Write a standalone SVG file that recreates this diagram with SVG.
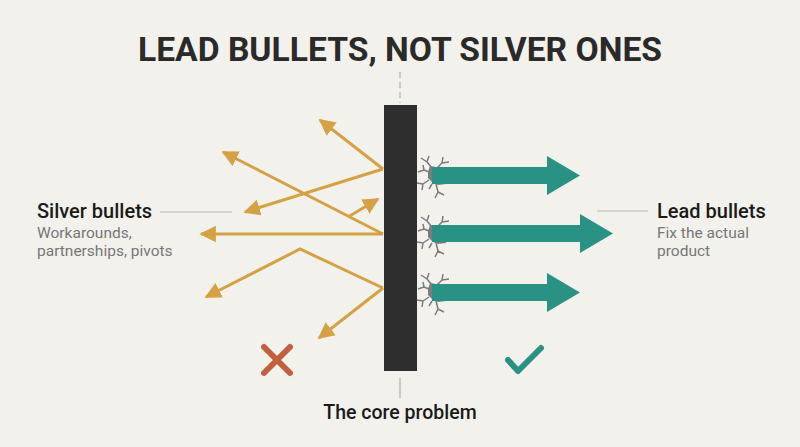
<svg xmlns="http://www.w3.org/2000/svg" width="800" height="447" viewBox="0 0 800 447">
<defs>
<style>
.gold{fill:none;stroke:#D4A244;stroke-width:3;stroke-linejoin:miter}
.teal{fill:#2A9284}
.crack{fill:none;stroke:#7C7C7C;stroke-width:1.5;stroke-linejoin:round}
.hdr{font-family:Roboto,"Liberation Sans",sans-serif;font-weight:500;font-size:20px;fill:#1a1a1a}
.sub{font-family:Roboto,"Liberation Sans",sans-serif;font-size:15.5px;fill:#777}
.lead{stroke:#B5B5B5;stroke-width:1}
</style>
<marker id="ah" viewBox="0 0 10 10" refX="9" refY="5" markerWidth="5.5" markerHeight="5.5" markerUnits="strokeWidth" orient="auto">
<path d="M0,0 L10,5 L0,10 z" fill="#D4A244"/>
</marker>
<g id="crk">
<path d="M-2,-9 L4,-8 L8,-3 L14,-2 L14,9 L6,10 L1,8 L-4,3 L-4,-3 z" fill="#7C7C7C"/>
<path class="crack" d="M0,-7 L-5,-13 L-3,-19 M-5,-13 L-11,-17 M5,-7 L10,-12 L17,-13 M10,-12 L11,-18 M-3,-3 L-8,-5 L-14,-3 M-8,-5 L-9,-10 M-3,5 L-9,9 L-15,8 M-9,9 L-10,15 M4,9 L6,17 L12,20 M6,17 L3,23 M0,9 L-3,14"/>
</g>
</defs>
<rect width="800" height="447" fill="#F3F1EB"/>
<g id="title">
<text x="400" y="61" text-anchor="middle" font-family="Roboto,'Liberation Sans',sans-serif" font-weight="700" font-size="34" fill="#2A2A2A" textLength="524" lengthAdjust="spacingAndGlyphs">LEAD BULLETS, NOT SILVER ONES</text>
</g>
<g id="wall">
<line x1="400" y1="72" x2="400" y2="103" stroke="#BDBDBD" stroke-width="1.5" stroke-dasharray="6 4"/>
<rect x="384" y="105" width="33" height="266" fill="#2E2E2E"/>
<line x1="400" y1="378" x2="400" y2="398" stroke="#BDBDBD" stroke-width="1.5"/>
<text x="400" y="419" text-anchor="middle" font-family="Roboto,'Liberation Sans',sans-serif" font-weight="500" font-size="19.5" fill="#1a1a1a">The core problem</text>
</g>
<g id="connectors">
<polyline class="gold" points="383,169 320,120" marker-end="url(#ah)"/>
<polyline class="gold" points="383,169 245,212" marker-end="url(#ah)"/>
<polyline class="gold" points="383,234 223,152" marker-end="url(#ah)"/>
<polyline class="gold" points="348,217 378,199" marker-end="url(#ah)"/>
<polyline class="gold" points="383,234 201,234" marker-end="url(#ah)"/>
<polyline class="gold" points="383,288 300,249 206,297" marker-end="url(#ah)"/>
<polyline class="gold" points="383,288 319,338" marker-end="url(#ah)"/>
</g>
<g id="lead-arrows">
<use href="#crk" x="432" y="175"/>
<use href="#crk" x="432" y="234"/>
<use href="#crk" x="432" y="292"/>
<path class="teal" d="M432,167 H547 V156 L580,175.5 L547,195 V184 H432 z"/>
<path class="teal" d="M432,225 H580 V214 L613,233.5 L580,253 V242 H432 z"/>
<path class="teal" d="M432,284 H547 V273 L580,292.5 L547,312 V301 H432 z"/>
</g>
<g id="silver-label">
<line class="lead" x1="160" y1="212" x2="232" y2="212"/>
<text class="hdr" x="37" y="218">Silver bullets</text>
<text class="sub" x="37" y="238">Workarounds,</text>
<text class="sub" x="37" y="256">partnerships, pivots</text>
</g>
<g id="lead-label">
<line class="lead" x1="597" y1="211" x2="648" y2="211"/>
<text class="hdr" x="657" y="218">Lead bullets</text>
<text class="sub" x="657" y="238">Fix the actual</text>
<text class="sub" x="657" y="256">product</text>
</g>
<g id="cross">
<path d="M264,347 L290,373 M290,347 L264,373" stroke="#C2603E" stroke-width="6" fill="none" stroke-linecap="round"/>
</g>
<g id="check">
<path d="M508,360 L518,371 L541,348" stroke="#2A9284" stroke-width="6" fill="none" stroke-linecap="round" stroke-linejoin="round"/>
</g>
</svg>
